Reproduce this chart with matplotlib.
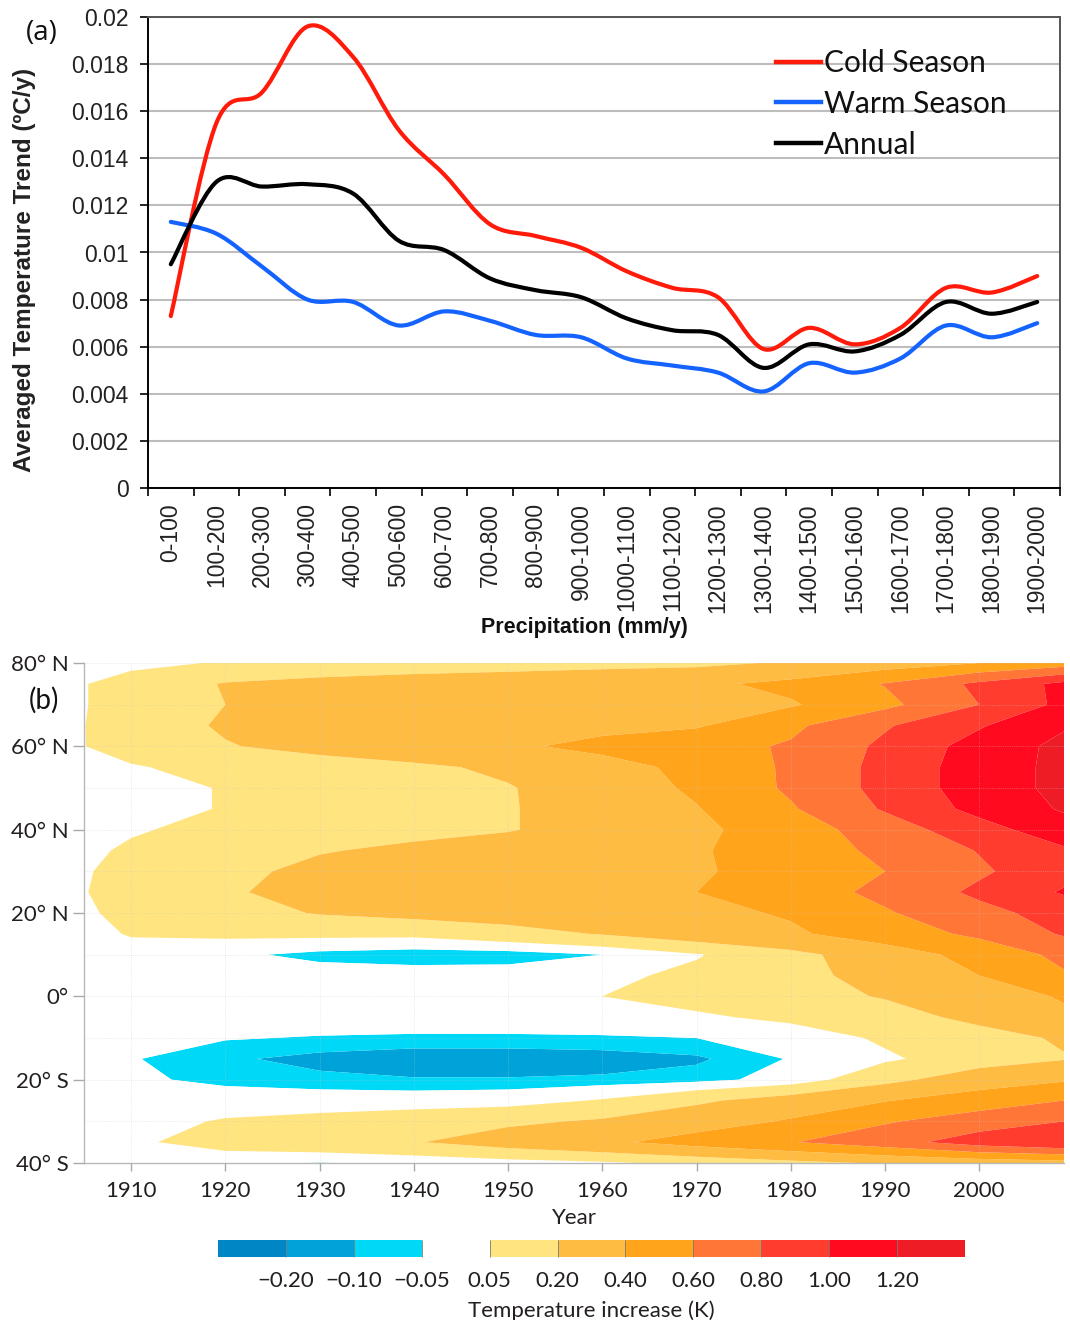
import numpy as np
import matplotlib
matplotlib.use("Agg")
import matplotlib.pyplot as plt
from matplotlib.path import Path
from matplotlib.patches import PathPatch
from matplotlib.lines import Line2D

# ---------------- Panel (a) data ----------------
precip_bins = ['0-100', '100-200', '200-300', '300-400', '400-500', '500-600',
               '600-700', '700-800', '800-900', '900-1000', '1000-1100',
               '1100-1200', '1200-1300', '1300-1400', '1400-1500', '1500-1600',
               '1600-1700', '1700-1800', '1800-1900', '1900-2000']
cold_season = [0.0073, 0.0155, 0.0168, 0.0196, 0.0183, 0.0152, 0.0133, 0.0112,
               0.0107, 0.0102, 0.0092, 0.0085, 0.0081, 0.0059, 0.0068, 0.0061,
               0.0068, 0.0085, 0.0083, 0.0090]
warm_season = [0.0113, 0.0108, 0.0094, 0.0080, 0.0079, 0.0069, 0.0075, 0.0071,
               0.0065, 0.0064, 0.0055, 0.0052, 0.0049, 0.0041, 0.0053, 0.0049,
               0.0055, 0.0069, 0.0064, 0.0070]
annual = [0.0095, 0.0130, 0.0128, 0.0129, 0.0125, 0.0105, 0.0101, 0.0089,
          0.0084, 0.0081, 0.0072, 0.0067, 0.0065, 0.0051, 0.0061, 0.0058,
          0.0065, 0.0079, 0.0074, 0.0079]
series_names = ['Cold Season', 'Warm Season', 'Annual']
yticks_a = [0, 0.002, 0.004, 0.006, 0.008, 0.010, 0.012, 0.014, 0.016, 0.018, 0.020]
ytick_labels_a = ['0', '0.002', '0.004', '0.006', '0.008', '0.01', '0.012',
                  '0.014', '0.016', '0.018', '0.02']

# ---------------- Panel (b) data ----------------
years_b = [1905, 1910, 1920, 1930, 1940, 1950, 1960, 1970, 1980, 1990, 2000, 2009]
latitudes_b = [80, 75, 70, 65, 60, 55, 50, 45, 40, 35, 30, 25, 20, 15, 10, 5, 0,
               -5, -10, -15, -20, -25, -30, -35, -40]
t_80n = [0.0, 0.02, 0.06, 0.09, 0.11, 0.12, 0.14, 0.16, 0.22, 0.30, 0.40, 0.50]
t_75n = [0.045, 0.10, 0.21, 0.25, 0.28, 0.31, 0.34, 0.36, 0.45, 0.61, 0.84, 1.05]
t_70n = [0.045, 0.10, 0.20, 0.25, 0.27, 0.29, 0.31, 0.33, 0.38, 0.55, 0.80, 1.05]
t_65n = [0.048, 0.11, 0.22, 0.26, 0.29, 0.32, 0.35, 0.38, 0.56, 0.78, 0.98, 1.18]
t_60n = [0.048, 0.10, 0.19, 0.25, 0.31, 0.37, 0.45, 0.53, 0.62, 0.84, 1.08, 1.25]
t_55n = [0.02, 0.04, 0.09, 0.13, 0.17, 0.23, 0.33, 0.45, 0.63, 0.86, 1.10, 1.25]
t_50n = [0.0, 0.02, 0.055, 0.10, 0.15, 0.19, 0.29, 0.43, 0.63, 0.86, 1.10, 1.25]
t_45n = [0.0, 0.02, 0.055, 0.10, 0.15, 0.19, 0.27, 0.39, 0.58, 0.82, 1.06, 1.22]
t_40n = [0.01, 0.04, 0.08, 0.12, 0.16, 0.19, 0.27, 0.36, 0.50, 0.70, 0.92, 1.12]
t_35n = [0.03, 0.065, 0.13, 0.19, 0.23, 0.28, 0.33, 0.38, 0.50, 0.64, 0.81, 0.97]
t_30n = [0.04, 0.09, 0.16, 0.24, 0.28, 0.31, 0.34, 0.38, 0.47, 0.60, 0.77, 0.93]
t_25n = [0.045, 0.10, 0.18, 0.26, 0.30, 0.33, 0.36, 0.40, 0.50, 0.65, 0.84, 1.02]
t_20n = [0.035, 0.08, 0.14, 0.21, 0.25, 0.28, 0.31, 0.35, 0.42, 0.58, 0.74, 0.88]
t_15n = [0.01, 0.06, 0.075, 0.08, 0.08, 0.14, 0.21, 0.30, 0.37, 0.50, 0.64, 0.82]
t_10n = [0.0, 0.0, -0.03, -0.075, -0.095, -0.09, -0.05, 0.04, 0.15, 0.30, 0.47, 0.65]
t_05n = [0.0, 0.0, 0.0, -0.005, -0.005, -0.005, 0.02, 0.08, 0.15, 0.26, 0.40, 0.58]
t_00 = [0.0, 0.0, 0.0, 0.0, 0.0, 0.0, 0.05, 0.10, 0.15, 0.21, 0.30, 0.42]
t_05s = [0.0, 0.0, -0.01, -0.01, -0.01, -0.01, 0.0, 0.03, 0.08, 0.14, 0.24, 0.36]
t_10s = [0.0, -0.02, -0.045, -0.055, -0.06, -0.06, -0.058, -0.05, -0.02, 0.07, 0.14, 0.22]
t_15s = [0.0, -0.045, -0.09, -0.12, -0.14, -0.14, -0.13, -0.11, -0.045, 0.03, 0.12, 0.19]
t_20s = [0.0, -0.035, -0.07, -0.085, -0.095, -0.095, -0.09, -0.075, -0.02, 0.15, 0.30, 0.38]
t_25s = [0.0, 0.0, -0.005, -0.01, -0.01, 0.0, 0.06, 0.17, 0.28, 0.39, 0.50, 0.60]
t_30s = [0.0, 0.01, 0.06, 0.09, 0.13, 0.17, 0.22, 0.31, 0.42, 0.58, 0.70, 0.80]
t_35s = [0.0, 0.03, 0.10, 0.15, 0.19, 0.28, 0.36, 0.48, 0.59, 0.72, 0.90, 1.00]
t_40s = [0.0, 0.0, -0.02, -0.055, -0.03, 0.0, 0.03, 0.08, 0.15, 0.22, 0.28, 0.32]

levels_b = [-0.3, -0.2, -0.1, -0.05, 0.05, 0.2, 0.4, 0.6, 0.8, 1.0, 1.2, 1.4]
level_colors = ['#0085C5', '#00A3D9', '#00D8F7', '#FFFFFF', '#FFE47F', '#FFBC42',
                '#FFA41B', '#FF7636', '#FF3C2E', '#FF0A1E', '#EE1C25']
cbar_labels = ['\u22120.20', '\u22120.10', '\u22120.05', '0.05', '0.20', '0.40',
               '0.60', '0.80', '1.00', '1.20']
year_ticks = [1910, 1920, 1930, 1940, 1950, 1960, 1970, 1980, 1990, 2000]
lat_ticks = [-40, -20, 0, 20, 40, 60, 80]
lat_labels = ['40\u00b0 S', '20\u00b0 S', '0\u00b0', '20\u00b0 N', '40\u00b0 N',
              '60\u00b0 N', '80\u00b0 N']

W, H = 1070, 1320
fig = plt.figure(figsize=(W / 100, H / 100), dpi=100)


def rect(x0, y0, x1, y1):
    return [x0 / W, 1 - y1 / H, (x1 - x0) / W, (y1 - y0) / H]


def smooth_path(xs, ys):
    n = len(xs)
    pts = np.column_stack([xs, ys]).astype(float)
    verts = [tuple(pts[0])]
    codes = [Path.MOVETO]
    for i in range(n - 1):
        p0 = pts[max(i - 1, 0)]
        p1 = pts[i]
        p2 = pts[i + 1]
        p3 = pts[min(i + 2, n - 1)]
        c1 = p1 + (p2 - p0) / 6.0
        c2 = p2 - (p3 - p1) / 6.0
        verts += [tuple(c1), tuple(c2), tuple(p2)]
        codes += [Path.CURVE4] * 3
    return Path(verts, codes)


# ---------------- Panel (a) ----------------
arial = 'Liberation Sans'
axa = fig.add_axes(rect(148, 17, 1060, 488))
xpos = np.arange(len(precip_bins))
series = [cold_season, warm_season, annual]
colors_a = ['#FF1A0A', '#1463FF', '#000000']
for vals, col in zip(series, colors_a):
    patch = PathPatch(smooth_path(xpos, vals), facecolor='none', edgecolor=col,
                      lw=3.0, capstyle='round', joinstyle='round', zorder=3)
    axa.add_patch(patch)
axa.set_xlim(-0.5, len(precip_bins) - 0.5)
axa.set_ylim(0, 0.02)
axa.set_yticks(yticks_a)
axa.set_yticklabels(ytick_labels_a, fontfamily=arial, fontsize=16.5, color='#222222')
axa.set_xticks(xpos)
axa.set_xticklabels(precip_bins, rotation=90, fontfamily=arial, fontsize=16.5,
                    color='#222222', va='top')
axa.set_xticks(np.arange(-0.5, len(precip_bins), 1.0), minor=True)
axa.tick_params(axis='x', which='major', length=0, pad=11)
axa.tick_params(axis='x', which='minor', length=6, width=1.2, color='black')
axa.tick_params(axis='y', length=6, width=1.2, pad=8, direction='out')
axa.yaxis.grid(True, color='#BDBDBD', lw=1.5)
axa.set_axisbelow(True)
for s in ['left', 'bottom']:
    axa.spines[s].set_color('black')
    axa.spines[s].set_linewidth(1.4)
for s in ['top', 'right']:
    axa.spines[s].set_color('#555555')
    axa.spines[s].set_linewidth(1.4)

handles = [Line2D([], [], color=c, lw=3.2) for c in colors_a]
leg = axa.legend(handles, series_names, loc='upper left',
                 bbox_to_anchor=((776 - 148) / 912, (488 - 49) / 471),
                 frameon=False, borderpad=0, borderaxespad=0,
                 handlelength=1.5, handletextpad=0.1, labelspacing=0.43,
                 prop={'family': 'Lato', 'size': 21.5})
for t in leg.get_texts():
    t.set_color('#111111')

fig.text(42 / W, 1 - 33 / H, '(a)', fontsize=20, family='Open Sans',
         ha='center', va='center', color='#111111')
fig.text(25 / W, 1 - 270 / H, 'Averaged Temperature Trend (\u00baC/y)', rotation=90,
         fontsize=17.5, fontweight='bold', family=arial, ha='center', va='center',
         color='#222222')
fig.text(584 / W, 1 - 627 / H, 'Precipitation (mm/y)', fontsize=15.5,
         fontweight='bold', family=arial, ha='center', va='center', color='#111111')

# ---------------- Panel (b) ----------------
lato = 'Lato'
txtcol = '#231F20'
axb = fig.add_axes(rect(84, 663, 1064, 1163))
Z = np.array([t_80n, t_75n, t_70n, t_65n, t_60n, t_55n, t_50n, t_45n, t_40n,
              t_35n, t_30n, t_25n, t_20n, t_15n, t_10n, t_05n, t_00, t_05s,
              t_10s, t_15s, t_20s, t_25s, t_30s, t_35s, t_40s])
cf = axb.contourf(years_b, latitudes_b, Z, levels=levels_b, colors=level_colors,
                  antialiased=True)
axb.set_xlim(1905, 2009)
axb.set_ylim(-40, 80)
axb.set_xticks(year_ticks)
axb.set_xticklabels([str(y) for y in year_ticks], fontfamily=lato, fontsize=16,
                    color=txtcol)
axb.set_yticks(lat_ticks)
axb.set_yticklabels(lat_labels, fontfamily=lato, fontsize=16, color=txtcol)
axb.set_yticks([-30, -10, 10, 30, 50, 70], minor=True)
axb.tick_params(axis='y', which='major', length=8, width=1, color='#AAAAAA', pad=3)
axb.tick_params(axis='y', which='minor', length=0)
axb.tick_params(axis='x', which='major', length=6, width=1, color='#AAAAAA', pad=7)
axb.grid(True, which='both', color='#C8C8C8', linestyle=':', lw=0.6, alpha=0.5)
axb.set_axisbelow(False)
for s in ['top', 'right']:
    axb.spines[s].set_visible(False)
for s in ['left', 'bottom']:
    axb.spines[s].set_color('#B8B8B8')
    axb.spines[s].set_linewidth(1.0)
axb.set_xlabel('Year', fontfamily=lato, fontsize=16, color=txtcol, labelpad=5)

fig.text(44 / W, 1 - 700 / H, '(b)', fontsize=20, family=lato, ha='center',
         va='center', color='#111111')

cax = fig.add_axes(rect(218, 1240, 965, 1257))
cb = fig.colorbar(cf, cax=cax, orientation='horizontal', spacing='uniform',
                  ticks=levels_b[1:-1], drawedges=True)
cb.set_ticklabels(cbar_labels)
cb.outline.set_visible(False)
cb.dividers.set_color('#7A7A7A')
cb.dividers.set_linewidth(0.6)
cb.ax.tick_params(length=0, pad=10)
for t in cb.ax.get_xticklabels():
    t.set_fontfamily(lato)
    t.set_fontsize(16)
    t.set_color(txtcol)
cb.set_label('Temperature increase (K)', fontfamily=lato, fontsize=16,
             color=txtcol, labelpad=7)

fig.savefig('out.png', dpi=100)
